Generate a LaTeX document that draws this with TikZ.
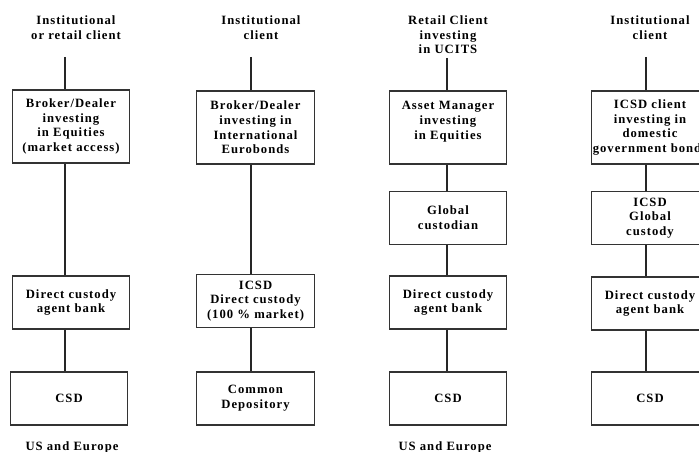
\documentclass[tikz,border=0pt]{standalone}
\usepackage{fontspec}
\setmainfont{Liberation Serif}[LetterSpace=8]
\begin{document}
\begin{tikzpicture}[x=0.75pt,y=-0.75pt,
    every node/.style={font=\fontsize{9.5}{11}\selectfont\bfseries, align=center, inner sep=0pt},
    box/.style={draw=black!80, line width=0.8pt, minimum width=88pt},
    tall/.style={box, minimum height=54.75pt},
    short/.style={box, minimum height=39.75pt},
    link/.style={draw=black!85, line width=0.8pt}]
  \useasboundingbox (0,0) rectangle (699,452);
  \clip (0,0) rectangle (699,452);
  % column 1
  \node (t1) at (76,27.5) {Institutional\\or retail client};
  \coordinate (c1) at (65,57);
  \node[tall] (b11) at (71,126.5) {Broker/Dealer\\investing\\in Equities\\(market access)};
  \node[short] (b12) at (71,302.5) {Direct custody\\agent bank};
  \node[short] (b13) at (69,398.5) {CSD};
  \node (u1) at (72,447) {US and Europe};
  \draw[link] (c1) -- (c1 |- b11.north);
  \draw[link] (c1 |- b11.south) -- (c1 |- b12.north);
  \draw[link] (c1 |- b12.south) -- (c1 |- b13.north);
  % column 2
  \node (t2) at (261,27.5) {Institutional\\client};
  \coordinate (c2) at (251,57);
  \node[tall] (b21) at (255.5,127.5) {Broker/Dealer\\investing in\\International\\Eurobonds};
  \node[short] (b22) at (255.5,301) {ICSD\\Direct custody\\(100 \% market)};
  \node[short] (b23) at (255.5,398.5) {Common\\Depository};
  \draw[link] (c2) -- (c2 |- b21.north);
  \draw[link] (c2 |- b21.south) -- (c2 |- b22.north);
  \draw[link] (c2 |- b22.south) -- (c2 |- b23.north);
  % column 3
  \node (t3) at (448,35) {Retail Client\\investing\\in UCITS};
  \coordinate (c3) at (447,58);
  \node[tall] (b31) at (448,127.5) {Asset Manager\\investing\\in Equities\\~};
  \node[short] (b32) at (448,218) {Global\\custodian};
  \node[short] (b33) at (448,302.5) {Direct custody\\agent bank};
  \node[short] (b34) at (448,398.5) {CSD};
  \node (u3) at (445,447) {US and Europe};
  \draw[link] (c3) -- (c3 |- b31.north);
  \draw[link] (c3 |- b31.south) -- (c3 |- b32.north);
  \draw[link] (c3 |- b32.south) -- (c3 |- b33.north);
  \draw[link] (c3 |- b33.south) -- (c3 |- b34.north);
  % column 4
  \node (t4) at (650,27.5) {Institutional\\client};
  \coordinate (c4) at (646,57);
  \node[tall] (b41) at (650,127.5) {ICSD client\\investing in\\domestic\\government bonds};
  \node[short] (b42) at (650,218) {ICSD\\Global\\custody};
  \node[short] (b43) at (650,303.5) {Direct custody\\agent bank};
  \node[short] (b44) at (650,398.5) {CSD};
  \draw[link] (c4) -- (c4 |- b41.north);
  \draw[link] (c4 |- b41.south) -- (c4 |- b42.north);
  \draw[link] (c4 |- b42.south) -- (c4 |- b43.north);
  \draw[link] (c4 |- b43.south) -- (c4 |- b44.north);
\end{tikzpicture}
\end{document}
